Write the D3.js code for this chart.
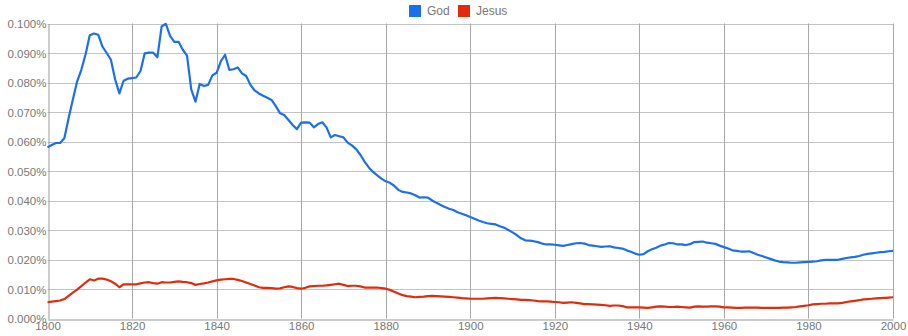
<!DOCTYPE html>
<html>
<head>
<meta charset="utf-8">
<script src="https://cdn.jsdelivr.net/npm/d3@7/dist/d3.min.js"></script>
<style>
  html, body { margin: 0; padding: 0; background: #fff; }
  svg { display: block; font-family: "Liberation Sans", Arial, sans-serif; }
</style>
</head>
<body>
<svg id="chart" width="908" height="336"></svg>
<script>
// Yearly frequencies (percent of all words), 1800–2000
const startYear = 1800;
const endYear = 2000;
const seriesNames = ["God", "Jesus"];
const seriesColors = ["#1a6ff0", "#e5290b"];

const godValues = [
  0.0580, 0.0588, 0.0595, 0.0595, 0.0612, 0.0680, 0.0742, 0.0803, 0.0843, 0.0895,
  0.0960, 0.0966, 0.0962, 0.0922, 0.0900, 0.0877, 0.0810, 0.0763, 0.0806, 0.0813,
  0.0815, 0.0817, 0.0839, 0.0899, 0.0901, 0.0901, 0.0886, 0.0990, 0.0999, 0.0958,
  0.0938, 0.0938, 0.0911, 0.0891, 0.0777, 0.0735, 0.0795, 0.0788, 0.0792, 0.0824,
  0.0833, 0.0872, 0.0894, 0.0843, 0.0845, 0.0851, 0.0831, 0.0822, 0.0792, 0.0773,
  0.0763, 0.0755, 0.0748, 0.0741, 0.0720, 0.0696, 0.0690, 0.0673, 0.0656, 0.0642,
  0.0664, 0.0665, 0.0664, 0.0648, 0.0659, 0.0665, 0.0648, 0.0614, 0.0622, 0.0618,
  0.0614, 0.0596, 0.0587, 0.0574, 0.0555, 0.0532, 0.0512, 0.0497, 0.0485, 0.0474,
  0.0465, 0.0460, 0.0450, 0.0436, 0.0429, 0.0427, 0.0424, 0.0418, 0.0410, 0.0411,
  0.0410, 0.0400, 0.0392, 0.0385, 0.0378, 0.0372, 0.0368, 0.0360, 0.0355, 0.0350,
  0.0344, 0.0338, 0.0332, 0.0327, 0.0323, 0.0321, 0.0319, 0.0313, 0.0308, 0.0300,
  0.0292, 0.0283, 0.0272, 0.0265, 0.0264, 0.0262, 0.0259, 0.0254, 0.0251, 0.0251,
  0.0250, 0.0248, 0.0246, 0.0249, 0.0252, 0.0255, 0.0256, 0.0254, 0.0249, 0.0247,
  0.0245, 0.0243, 0.0244, 0.0245, 0.0241, 0.0239, 0.0237, 0.0231, 0.0226, 0.0220,
  0.0216, 0.0218, 0.0228, 0.0235, 0.0240, 0.0247, 0.0251, 0.0256, 0.0255, 0.0251,
  0.0251, 0.0249, 0.0252, 0.0259, 0.0260, 0.0261, 0.0257, 0.0255, 0.0253, 0.0247,
  0.0242, 0.0237, 0.0231, 0.0229, 0.0227, 0.0227, 0.0228, 0.0222, 0.0216, 0.0212,
  0.0207, 0.0202, 0.0197, 0.0193, 0.0191, 0.0190, 0.0189, 0.0189, 0.0190, 0.0191,
  0.0192, 0.0193, 0.0194, 0.0197, 0.0199, 0.0199, 0.0199, 0.0199, 0.0202, 0.0205,
  0.0207, 0.0209, 0.0212, 0.0216, 0.0219, 0.0221, 0.0223, 0.0225, 0.0226, 0.0228,
  0.0229
];

const jesusValues = [
  0.0055, 0.0057, 0.0059, 0.0061, 0.0066, 0.0077, 0.0088, 0.0098, 0.0110, 0.0122,
  0.0133, 0.0129, 0.0135, 0.0135, 0.0132, 0.0126, 0.0118, 0.0106, 0.0116, 0.0116,
  0.0116, 0.0116, 0.0119, 0.0122, 0.0123, 0.0120, 0.0118, 0.0123, 0.0122, 0.0122,
  0.0124, 0.0126, 0.0124, 0.0123, 0.0120, 0.0114, 0.0117, 0.0119, 0.0122, 0.0126,
  0.0129, 0.0132, 0.0133, 0.0134, 0.0134, 0.0131, 0.0127, 0.0122, 0.0117, 0.0112,
  0.0106, 0.0104, 0.0104, 0.0103, 0.0101, 0.0102, 0.0106, 0.0109, 0.0107, 0.0103,
  0.0101, 0.0104, 0.0109, 0.0110, 0.0111, 0.0111, 0.0112, 0.0114, 0.0116, 0.0118,
  0.0114, 0.0110, 0.0111, 0.0111, 0.0109, 0.0105, 0.0105, 0.0105, 0.0105, 0.0103,
  0.0101, 0.0097, 0.0091, 0.0085, 0.0079, 0.0076, 0.0074, 0.0072, 0.0073, 0.0074,
  0.0076, 0.0077, 0.0076, 0.0075, 0.0074, 0.0073, 0.0072, 0.0071, 0.0069, 0.0068,
  0.0067, 0.0067, 0.0067, 0.0067, 0.0068, 0.0069, 0.0070, 0.0069, 0.0068, 0.0067,
  0.0066, 0.0065, 0.0063, 0.0063, 0.0062, 0.0061, 0.0059, 0.0058, 0.0058, 0.0057,
  0.0056, 0.0055, 0.0053, 0.0054, 0.0055, 0.0053, 0.0051, 0.0049, 0.0049, 0.0048,
  0.0047, 0.0046, 0.0045, 0.0043, 0.0044, 0.0044, 0.0042, 0.0038, 0.0038, 0.0038,
  0.0038, 0.0037, 0.0036, 0.0038, 0.0040, 0.0041, 0.0040, 0.0039, 0.0039, 0.0040,
  0.0039, 0.0038, 0.0037, 0.0040, 0.0041, 0.0040, 0.0040, 0.0041, 0.0041, 0.0040,
  0.0038, 0.0038, 0.0037, 0.0036, 0.0036, 0.0037, 0.0037, 0.0037, 0.0037, 0.0036,
  0.0036, 0.0036, 0.0036, 0.0036, 0.0037, 0.0037, 0.0038, 0.0039, 0.0041, 0.0043,
  0.0045, 0.0048, 0.0049, 0.0050, 0.0050, 0.0051, 0.0051, 0.0051, 0.0053, 0.0056,
  0.0058, 0.0060, 0.0062, 0.0065, 0.0066, 0.0067, 0.0068, 0.0069, 0.0070, 0.0071,
  0.0072
];

const xTickYears = [1800, 1820, 1840, 1860, 1880, 1900, 1920, 1940, 1960, 1980, 2000];
const yTickValues = [0, 0.01, 0.02, 0.03, 0.04, 0.05, 0.06, 0.07, 0.08, 0.09, 0.10];

const svg = d3.select("#chart");
const margin = { left: 47.5, right: 15, top: 23.5, bottom: 17.5 };
const W = 908, H = 336;

const x = d3.scaleLinear().domain([startYear, endYear]).range([margin.left, W - margin.right]);
const y = d3.scaleLinear().domain([0, 0.10]).range([H - margin.bottom, margin.top]);

// horizontal gridlines
svg.append("g")
  .selectAll("line")
  .data(yTickValues.slice(1))
  .join("line")
  .attr("x1", x(startYear)).attr("x2", x(endYear))
  .attr("y1", d => Math.round(y(d)) + 0.5).attr("y2", d => Math.round(y(d)) + 0.5)
  .attr("stroke", "#c4c4c4").attr("stroke-width", 1);

// vertical gridlines
svg.append("g")
  .selectAll("line")
  .data(xTickYears.slice(1))
  .join("line")
  .attr("x1", d => Math.round(x(d)) + 0.5).attr("x2", d => Math.round(x(d)) + 0.5)
  .attr("y1", y(0.10)).attr("y2", y(0))
  .attr("stroke", "#a8a8a8").attr("stroke-width", 1);

// axes
const xAxis = d3.axisBottom(x).tickValues(xTickYears).tickFormat(d3.format("d")).tickSize(0).tickPadding(2);
const yAxis = d3.axisLeft(y).tickValues(yTickValues).tickFormat(d => d3.format(".3f")(d) + "%").tickSize(0).tickPadding(2);

const gx = svg.append("g").attr("transform", `translate(0,${Math.round(y(0)) + 0.5})`).call(xAxis);
const gy = svg.append("g").attr("transform", `translate(${Math.round(x(startYear)) + 0.5},0)`).call(yAxis);

[gx, gy].forEach(g => {
  g.select(".domain").attr("stroke", "#999").attr("stroke-width", 1);
  g.selectAll("text").attr("fill", "#777").style("font-size", "11.5px")
    .style("font-family", "'Liberation Sans', Arial, sans-serif");
});
gy.selectAll("text").attr("dy", "0.35em");
gx.selectAll("text").attr("dy", "0.75em");

// series lines
const line = d3.line()
  .x((d, i) => x(startYear + i))
  .y(d => y(d));

const seriesData = [godValues, jesusValues];
svg.append("g")
  .selectAll("path")
  .data(seriesData)
  .join("path")
  .attr("d", line)
  .attr("fill", "none")
  .attr("stroke", (d, i) => seriesColors[i])
  .attr("stroke-width", 2.2)
  .attr("stroke-linejoin", "round");

// legend
const legend = svg.append("g");
const legendX = [409, 458];
seriesNames.forEach((name, i) => {
  const g = legend.append("g").attr("transform", `translate(${legendX[i]},5)`);
  g.append("rect").attr("width", 12).attr("height", 12).attr("fill", seriesColors[i]);
  g.append("text").attr("x", 18).attr("y", 6).attr("dy", "0.35em")
    .attr("fill", "#777").style("font-size", "12px").text(name);
});
</script>
</body>
</html>
